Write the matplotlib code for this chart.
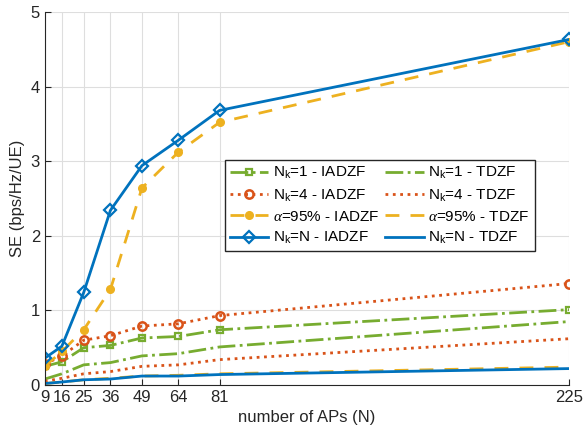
#!/usr/bin/env python3
import matplotlib
matplotlib.use('Agg')
import matplotlib.pyplot as plt

plt.rcParams['font.family'] = ['Liberation Sans', 'DejaVu Sans']
plt.rcParams['mathtext.fontset'] = 'custom'
plt.rcParams['mathtext.rm'] = 'Liberation Sans'
plt.rcParams['mathtext.it'] = 'Liberation Serif:italic'

aps = [9, 16, 25, 36, 49, 64, 81, 225]

nk1_iadzf = [0.25, 0.31, 0.50, 0.53, 0.63, 0.65, 0.74, 1.01]
nk1_tdzf = [0.08, 0.15, 0.27, 0.30, 0.39, 0.42, 0.51, 0.85]
nk4_iadzf = [0.28, 0.39, 0.60, 0.66, 0.79, 0.82, 0.93, 1.36]
nk4_tdzf = [0.05, 0.09, 0.15, 0.18, 0.25, 0.27, 0.34, 0.62]
a95_iadzf = [0.25, 0.45, 0.74, 1.28, 2.64, 3.12, 3.52, 4.60]
a95_tdzf = [0.02, 0.04, 0.07, 0.09, 0.12, 0.13, 0.15, 0.24]
nkN_iadzf = [0.36, 0.52, 1.24, 2.34, 2.94, 3.28, 3.68, 4.63]
nkN_tdzf = [0.02, 0.04, 0.07, 0.08, 0.12, 0.12, 0.14, 0.22]

BLUE = '#0072BD'
RED = '#D95319'
YELLOW = '#EDB120'
GREEN = '#77AC30'

fig, ax = plt.subplots(figsize=(5.83, 4.4), dpi=100)
fig.subplots_adjust(left=0.077, right=0.976, bottom=0.125, top=0.973)

lw = 2
ax.plot(aps, nk1_iadzf, '-.', color=GREEN, lw=lw, marker='s', mfc='none', mew=1.6, ms=5,
        label='N$_{\\mathrm{k}}$=1 - IADZF')
ax.plot(aps, nk4_iadzf, ':', color=RED, lw=lw, marker='o', mfc='none', mew=1.8, ms=6,
        label='N$_{\\mathrm{k}}$=4 - IADZF')
ax.plot(aps, a95_iadzf, '--', color=YELLOW, lw=lw, marker='o', ms=5.5,
        label='$\\alpha$=95% - IADZF', dashes=(5, 4))
ax.plot(aps, nkN_iadzf, '-', color=BLUE, lw=lw, marker='D', mfc='none', mew=1.6, ms=6,
        label='N$_{\\mathrm{k}}$=N - IADZF')
ax.plot(aps, nk1_tdzf, '-.', color=GREEN, lw=lw, label='N$_{\\mathrm{k}}$=1 - TDZF')
ax.plot(aps, nk4_tdzf, ':', color=RED, lw=lw, label='N$_{\\mathrm{k}}$=4 - TDZF')
ax.plot(aps, a95_tdzf, '--', color=YELLOW, lw=lw, label='$\\alpha$=95% - TDZF', dashes=(5, 4))
ax.plot(aps, nkN_tdzf, '-', color=BLUE, lw=lw, label='N$_{\\mathrm{k}}$=N - TDZF')

ax.set_xlim(9, 225)
ax.set_ylim(0, 5)
ax.set_xticks(aps)
ax.set_yticks([0, 1, 2, 3, 4, 5])
ax.tick_params(direction='in', labelsize=12, colors='#262626', length=4)
ax.grid(True, color='#dedede', lw=0.8)
ax.set_axisbelow(True)
for side in ['top', 'right']:
    ax.spines[side].set_visible(False)
for side in ['left', 'bottom']:
    ax.spines[side].set_color('#262626')

ax.set_xlabel('number of APs (N)', fontsize=12, color='#262626')
ax.set_ylabel('SE (bps/Hz/UE)', fontsize=12, color='#262626')

ax.legend(ncol=2, loc='upper left', bbox_to_anchor=(0.343, 0.603), fontsize=11,
          frameon=True, fancybox=False, edgecolor='#262626', framealpha=1,
          handlelength=2.5, handletextpad=0.3, columnspacing=0.4,
          labelspacing=0.4, borderpad=0.35, borderaxespad=0)

fig.savefig('out.png', dpi=100)
